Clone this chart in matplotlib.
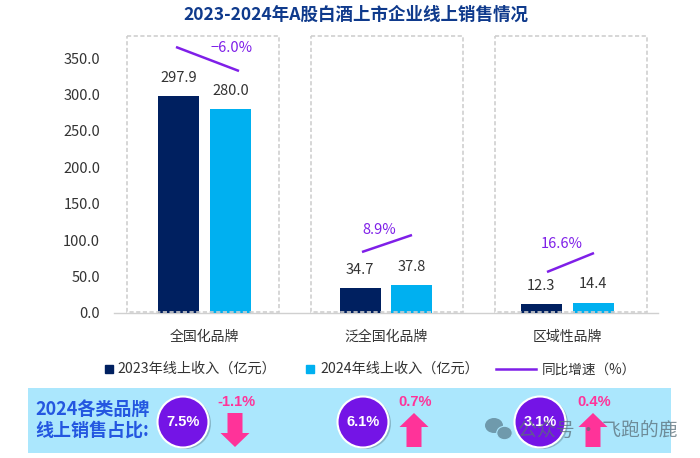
import matplotlib
matplotlib.use("Agg")
import matplotlib.pyplot as plt
from matplotlib.patches import Rectangle, Circle, Ellipse, Polygon
import numpy as np

plt.rcParams['font.family'] = ['Noto Sans CJK SC', 'DejaVu Sans']

categories = ["全国化品牌", "泛全国化品牌", "区域性品牌"]
revenue_2023 = [297.9, 34.7, 12.3]
revenue_2024 = [280.0, 37.8, 14.4]
growth_labels = ["−6.0%", "8.9%", "16.6%"]
share_labels = ["7.5%", "6.1%", "3.1%"]
share_changes = ["-1.1%", "0.7%", "0.4%"]
share_up = [False, True, True]
yticks = [0, 50, 100, 150, 200, 250, 300, 350]

W, H = 700, 458
NAVY = "#002060"
CYAN = "#00B0F0"
PURPLE = "#7F1FE8"
PINK = "#FF3399"
TIGHT = ["Liberation Sans", "DejaVu Sans"]

fig = plt.figure(figsize=(W / 100, H / 100), dpi=100)

# overlay in pixel coords for banner and legend
bg = fig.add_axes([0, 0, 1, 1])
bg.set_xlim(0, W)
bg.set_ylim(H, 0)
bg.axis("off")

# main chart axes, 0 at y=313 and 350 at y=58
ax = fig.add_axes([114 / W, 1 - 313 / H, (658 - 114) / W, 255 / H])
ax.patch.set_alpha(0)
x = np.arange(len(categories))
ax.bar(x - 0.143, revenue_2023, 0.226, color=NAVY, zorder=3)
ax.bar(x + 0.143, revenue_2024, 0.226, color=CYAN, zorder=3)
ax.set_xlim(-0.5, 2.5)
ax.set_ylim(0, 350)
ax.set_yticks(yticks)
ax.set_yticklabels([f"{v:.1f}" for v in yticks], fontsize=10.5, color="#333333")
ax.set_xticks(x)
ax.set_xticklabels(categories, fontsize=10, color="#333333")
ax.tick_params(length=0)
ax.tick_params(axis="x", pad=12)
ax.tick_params(axis="y", pad=10)
for s in ["top", "right", "left"]:
    ax.spines[s].set_visible(False)
ax.spines["bottom"].set_color("#D0D0D0")
ax.spines["bottom"].set_linewidth(1)

for i in range(len(categories)):
    ax.annotate(f"{revenue_2023[i]:.1f}", (x[i] - 0.143, revenue_2023[i]), xytext=(0, 8),
                textcoords="offset points", ha="center", va="bottom", fontsize=10.5, color="#333333")
    ax.annotate(f"{revenue_2024[i]:.1f}", (x[i] + 0.143, revenue_2024[i]), xytext=(0, 8),
                textcoords="offset points", ha="center", va="bottom", fontsize=10.5, color="#333333")

# top layer, the dashes run over the bar bottoms
top = fig.add_axes([0, 0, 1, 1])
top.set_xlim(0, W)
top.set_ylim(H, 0)
top.axis("off")

for left in [127, 311, 495]:
    top.add_patch(Rectangle((left, 36), 152, 276, fill=False, ec="#CFCFCF", lw=1.2, ls=(0, (2.5, 1.5))))

# growth segments and labels
segments = [((176, 47), (239, 71)), ((362, 252), (412, 235)), ((547, 272), (594, 253))]
label_pos = [(232, 48), (379, 230), (562, 244)]
for seg, pos, txt in zip(segments, label_pos, growth_labels):
    top.plot([seg[0][0], seg[1][0]], [seg[0][1], seg[1][1]], color=PURPLE, lw=1.8, solid_capstyle="butt")
    top.text(pos[0], pos[1], txt, color=PURPLE, fontsize=10.5, ha="center", va="center", fontweight="medium")

fig.text(356 / W, 1 - 15 / H, "2023-2024年A股白酒上市企业线上销售情况", fontsize=12.6,
         fontweight="bold", color="#0F3A8C", ha="center", va="center")

# legend
bg.add_patch(Rectangle((105, 365), 8, 8, color=NAVY))
bg.text(117, 369, "2023年线上收入（亿元）", fontsize=10.2, color="#333333", va="center")
bg.add_patch(Rectangle((306, 365), 8, 8, color=CYAN))
bg.text(320, 369, "2024年线上收入（亿元）", fontsize=10.2, color="#333333", va="center")
bg.plot([496, 536], [369, 369], color=PURPLE, lw=1.8)
bg.text(542, 370, "同比增速（%）", fontsize=9.8, color="#333333", va="center")

# share banner
bg.add_patch(Rectangle((28, 388), 643, 65, color="#ABE7FD", lw=0))
bg.text(35, 409, "2024各类品牌", fontsize=13, fontweight="bold", color="#2457E0", va="center")
bg.text(35, 430, "线上销售占比:", fontsize=13, fontweight="bold", color="#2457E0", va="center")

circle_x = [183, 363, 540]
arrow_x = [235, 414, 593]
for cx, a, share, change, up in zip(circle_x, arrow_x, share_labels, share_changes, share_up):
    bg.add_patch(Circle((cx + 2.5, 423.5), 25.5, color="#6F98A8", alpha=0.6, lw=0))
    bg.add_patch(Circle((cx, 422), 25.5, fc="#7414E6", ec="white", lw=1.5))
    bg.text(cx, 422, share, color="white", fontsize=10.5, fontweight="bold", ha="center", va="center",
            family=TIGHT)
    bg.text(a + 1, 402, change, color=PINK, fontsize=10.5, fontweight="bold", ha="center", va="center",
            family=TIGHT)
    if up:
        pts = [(a, 413), (a + 14.5, 427), (a + 7.5, 427), (a + 7.5, 447), (a - 7.5, 447), (a - 7.5, 427), (a - 14.5, 427)]
    else:
        pts = [(a, 447), (a + 14.5, 433), (a + 7.5, 433), (a + 7.5, 413), (a - 7.5, 413), (a - 7.5, 433), (a - 14.5, 433)]
    bg.add_patch(Polygon(pts, color=PINK, lw=0))

# watermark
top.add_patch(Ellipse((494, 425.5), 18, 15, color="#6F9AAC", lw=0))
top.add_patch(Ellipse((504.5, 433), 15.5, 13.5, fc="#6F9AAC", ec="#ABE7FD", lw=0.8))
top.text(518, 430, "公众号 · 飞跑的鹿", fontsize=13.6, color="#5A6E78", alpha=0.75, va="center")

fig.savefig("out.png", dpi=100)
